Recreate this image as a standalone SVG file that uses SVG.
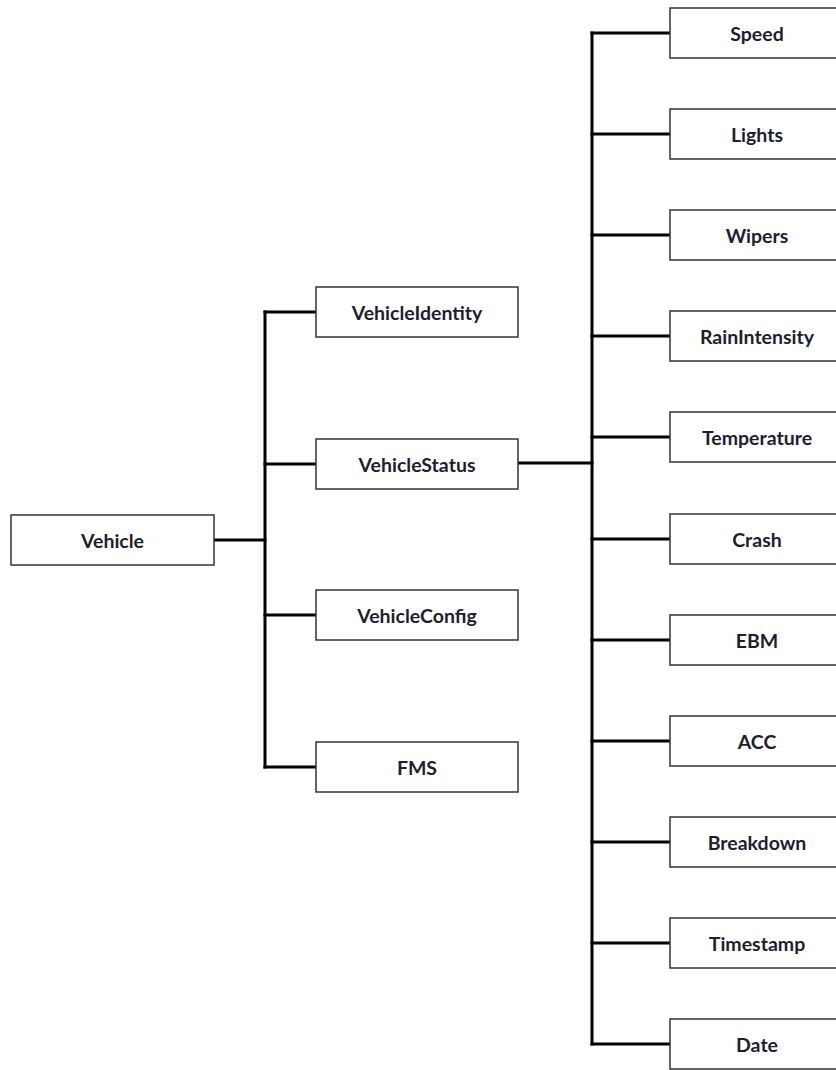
<svg xmlns="http://www.w3.org/2000/svg" width="836" height="1070" viewBox="0 0 836 1070">
  <style>
    .box { fill: #ffffff; stroke: #333333; stroke-width: 1.5; }
    .lbl { font-family: Lato, "Open Sans", "Liberation Sans", sans-serif; font-weight: bold; font-size: 19.5px; fill: #1e1e2e; text-anchor: middle; dominant-baseline: central; }
    .wire { fill: none; stroke: #000000; stroke-width: 3; stroke-linecap: square; }
  </style>
  <rect width="836" height="1070" fill="#ffffff"/>

  <!-- connectors -->
  <g id="connectors" class="wire">
    <path d="M214 540 H265"/>
    <path d="M265 312 V767"/>
    <path d="M265 312 H316 M265 464 H316 M265 615 H316 M265 767 H316"/>
    <path d="M517 463 H592"/>
    <path d="M592 33 V1044"/>
    <path d="M592 33 H670 M592 134 H670 M592 235 H670 M592 336 H670 M592 437 H670 M592 539 H670 M592 640 H670 M592 741 H670 M592 842 H670 M592 943 H670 M592 1044 H670"/>
  </g>

  <!-- root -->
  <g id="vehicle"><rect class="box" x="11" y="515" width="203" height="50"/><text class="lbl" x="112.5" y="540">Vehicle</text></g>

  <!-- second level -->
  <g id="vehicle-identity"><rect class="box" x="316" y="287" width="202" height="50"/><text class="lbl" x="417" y="312">VehicleIdentity</text></g>
  <g id="vehicle-status"><rect class="box" x="316" y="439" width="202" height="50"/><text class="lbl" x="417" y="464">VehicleStatus</text></g>
  <g id="vehicle-config"><rect class="box" x="316" y="590" width="202" height="50"/><text class="lbl" x="417" y="615">VehicleConfig</text></g>
  <g id="fms"><rect class="box" x="316" y="742" width="202" height="50"/><text class="lbl" x="417" y="767">FMS</text></g>

  <!-- status fields -->
  <g id="speed"><rect class="box" x="670" y="8" width="175" height="50"/><text class="lbl" x="757" y="33">Speed</text></g>
  <g id="lights"><rect class="box" x="670" y="109" width="175" height="50"/><text class="lbl" x="757" y="134">Lights</text></g>
  <g id="wipers"><rect class="box" x="670" y="210" width="175" height="50"/><text class="lbl" x="757" y="235">Wipers</text></g>
  <g id="rain-intensity"><rect class="box" x="670" y="311" width="175" height="50"/><text class="lbl" x="757" y="336">RainIntensity</text></g>
  <g id="temperature"><rect class="box" x="670" y="412" width="175" height="50"/><text class="lbl" x="757" y="437">Temperature</text></g>
  <g id="crash"><rect class="box" x="670" y="514" width="175" height="50"/><text class="lbl" x="757" y="539">Crash</text></g>
  <g id="ebm"><rect class="box" x="670" y="615" width="175" height="50"/><text class="lbl" x="757" y="640">EBM</text></g>
  <g id="acc"><rect class="box" x="670" y="716" width="175" height="50"/><text class="lbl" x="757" y="741">ACC</text></g>
  <g id="breakdown"><rect class="box" x="670" y="817" width="175" height="50"/><text class="lbl" x="757" y="842">Breakdown</text></g>
  <g id="timestamp"><rect class="box" x="670" y="918" width="175" height="50"/><text class="lbl" x="757" y="943">Timestamp</text></g>
  <g id="date"><rect class="box" x="670" y="1019" width="175" height="50"/><text class="lbl" x="757" y="1044">Date</text></g>
</svg>
